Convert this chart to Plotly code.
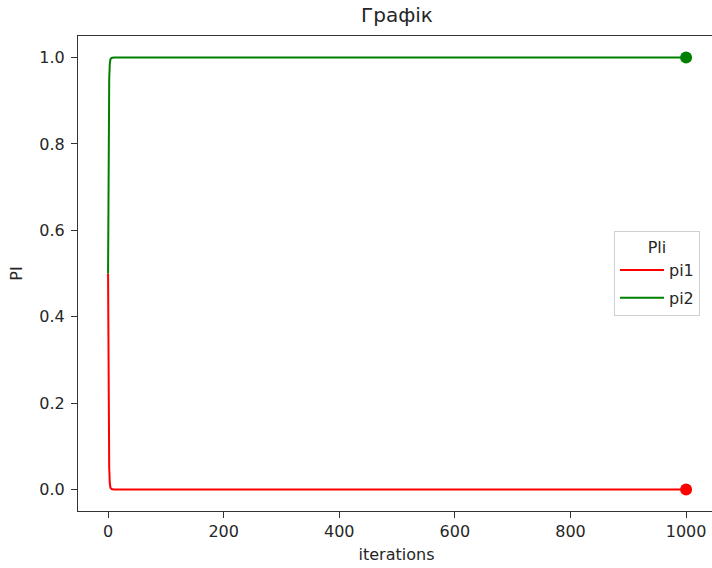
import plotly.graph_objects as go

iterations = [0, 1, 2, 3, 4, 6, 10, 1000]
pi1 = [0.5, 0.18, 0.05, 0.015, 0.004, 0.001, 0.0, 0.0]
pi2 = [0.5, 0.82, 0.95, 0.985, 0.996, 0.999, 1.0, 1.0]
x_ticks = [0, 200, 400, 600, 800, 1000]
y_ticks = [0.0, 0.2, 0.4, 0.6, 0.8, 1.0]

fig = go.Figure()
fig.add_trace(go.Scatter(x=iterations, y=pi1, mode="lines", name="pi1", legendgroup="a",
                         line=dict(color="red", width=2)))
fig.add_trace(go.Scatter(x=iterations, y=pi2, mode="lines", name="pi2", legendgroup="b",
                         line=dict(color="green", width=2)))
fig.add_trace(go.Scatter(x=[iterations[-1]], y=[pi1[-1]], mode="markers", showlegend=False,
                         marker=dict(color="red", size=12)))
fig.add_trace(go.Scatter(x=[iterations[-1]], y=[pi2[-1]], mode="markers", showlegend=False,
                         marker=dict(color="green", size=12)))

font = "DejaVu Sans, sans-serif"
W, H = 715, 568  # right spine sits just past the visible 712px window, as in the reference
fig.update_layout(
    width=W, height=H,
    margin=dict(l=78, r=0, t=36, b=57, autoexpand=False),
    paper_bgcolor="white", plot_bgcolor="white",
    font=dict(family=font, size=16, color="#262626"),
    title=dict(text="Графік", x=397 / W, xanchor="center", y=1 - 15 / H, yanchor="middle",
               font=dict(size=20, color="#262626")),
    legend=dict(title=dict(text="Pli", side="top center", font=dict(size=16)),
                x=(614 - 78) / 637, y=0.589, xanchor="left", yanchor="top",
                bordercolor="#d0d0d0", borderwidth=1, bgcolor="white",
                itemwidth=44, tracegroupgap=4,
                font=dict(size=16)),
    xaxis=dict(range=[-52, 1050], tickvals=x_ticks, ticktext=[str(v) for v in x_ticks],
               showgrid=False, zeroline=False, showline=True, linecolor="#333333", linewidth=1,
               mirror=True, ticks="outside", ticklen=6, tickcolor="#333333",
               automargin=False, ticklabeloverflow="allow",
               title=dict(text="iterations", standoff=8, font=dict(size=16))),
    yaxis=dict(range=[-0.05, 1.05], tickvals=y_ticks, ticktext=[f"{v:.1f}" for v in y_ticks],
               showgrid=False, zeroline=False, showline=True, linecolor="#333333", linewidth=1,
               ticks="outside", ticklen=6, tickcolor="#333333", ticklabelstandoff=3,
               automargin=False,
               title=dict(text="PI", standoff=12, font=dict(size=16))),
)

fig.write_html("out.html", config={"displayModeBar": False},
               post_script="document.body.style.margin='0';document.body.style.overflow='hidden';")
